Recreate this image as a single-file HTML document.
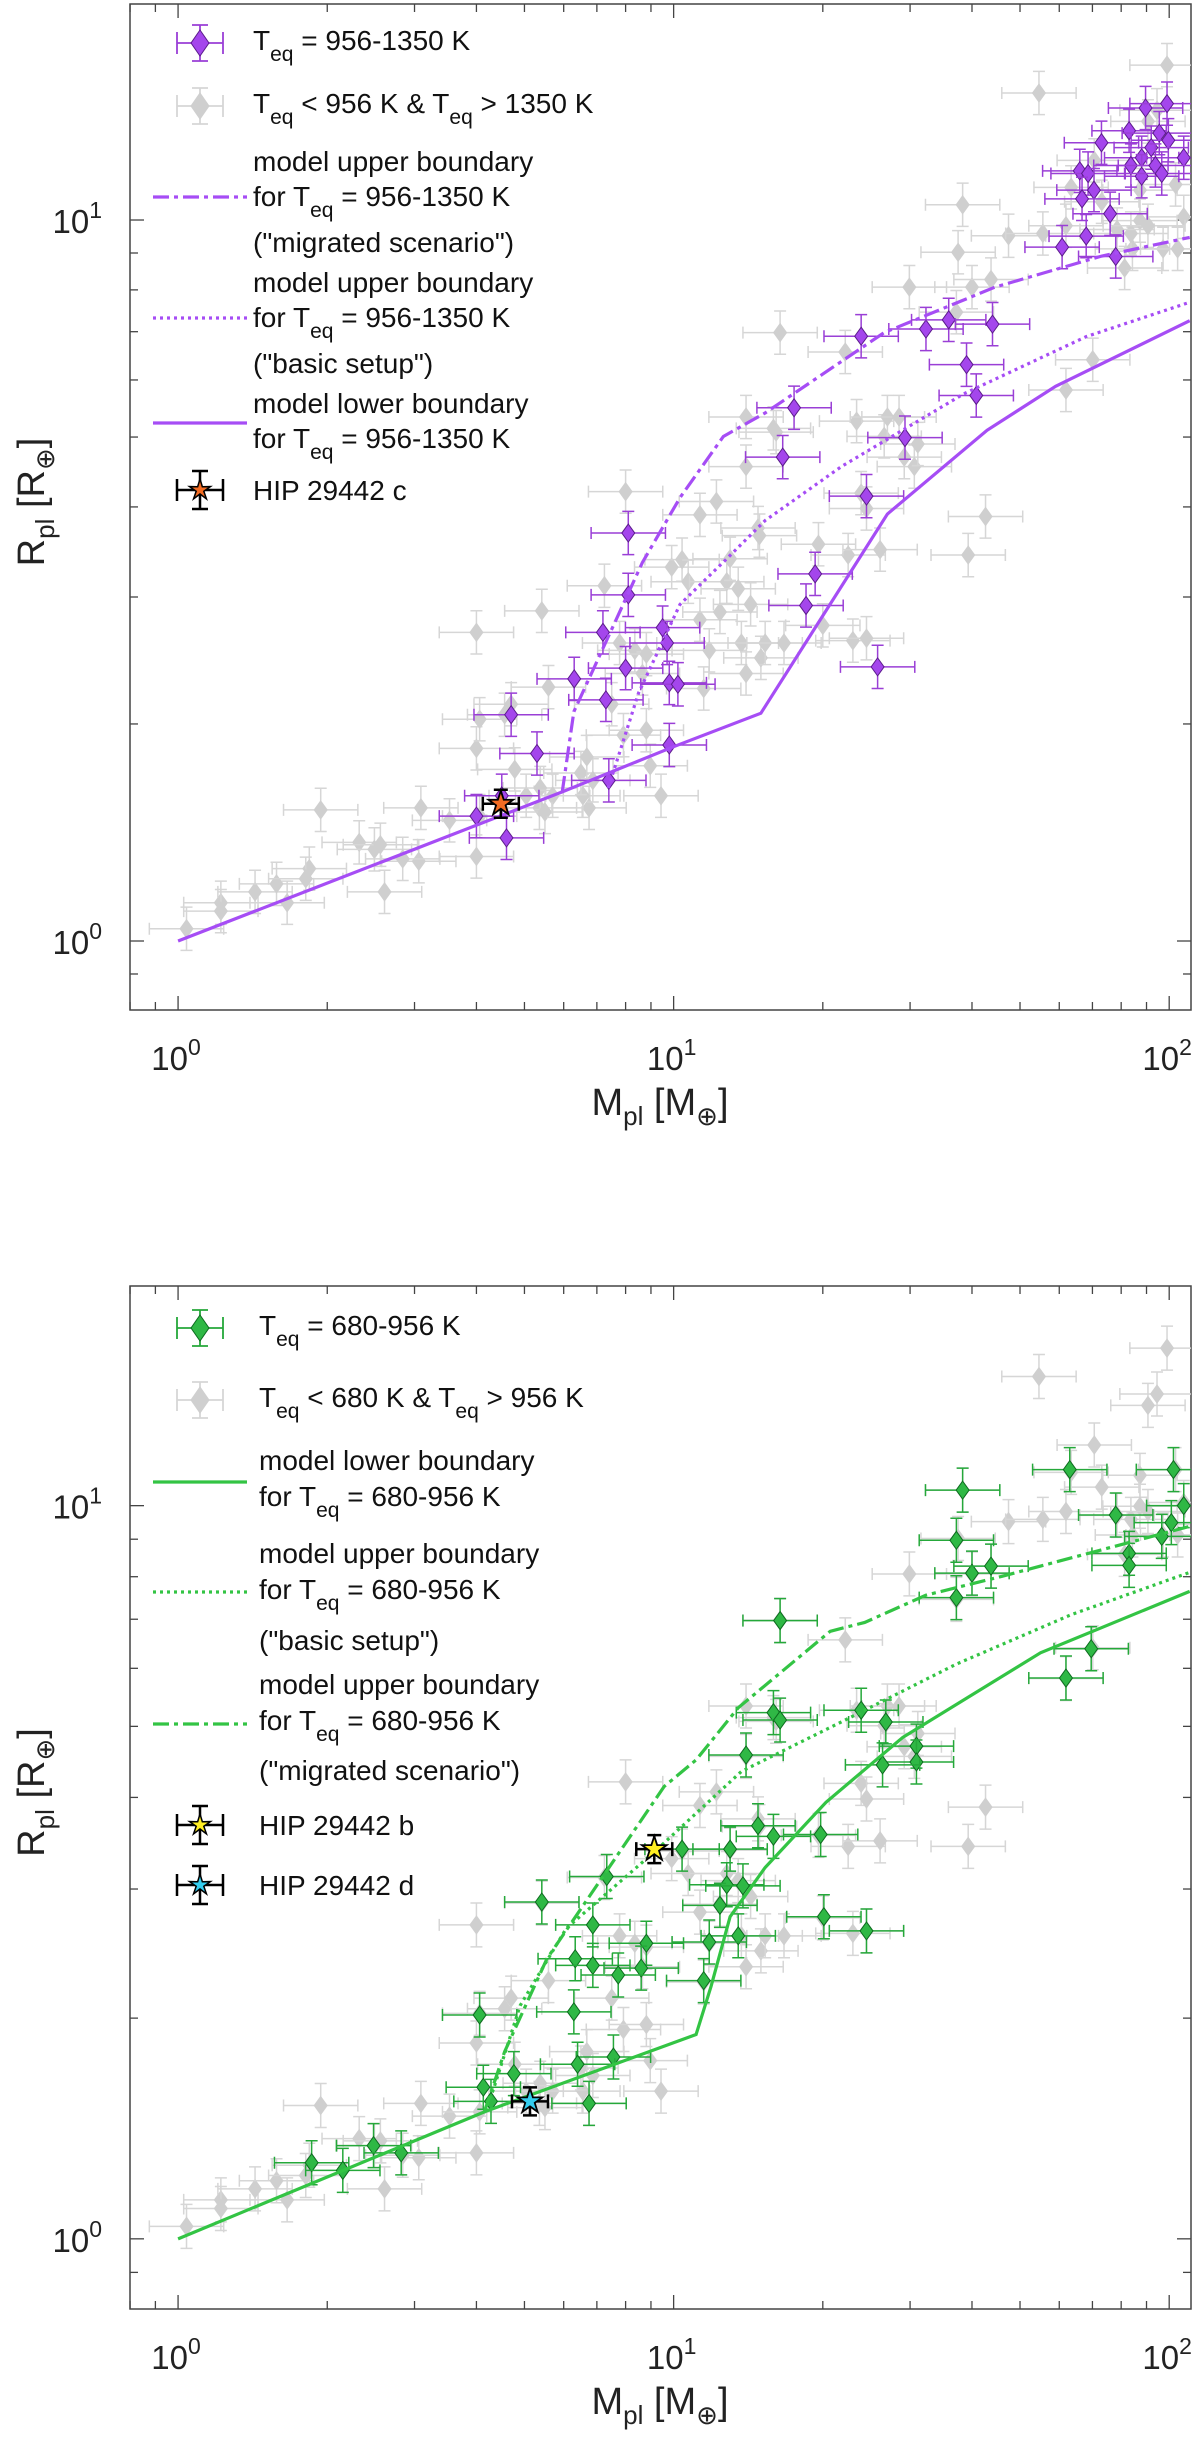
<!DOCTYPE html>
<html><head><meta charset="utf-8">
<style>
html,body{margin:0;padding:0;background:#fff;}
svg{display:block;font-family:"Liberation Sans",Arial,sans-serif;}
</style></head>
<body>
<svg id="fig" width="1200" height="2462" viewBox="0 0 1200 2462" xmlns="http://www.w3.org/2000/svg"></svg>
<script>
// ---------- DATA ----------
const grayMass=[1.04,1.22,1.22,1.43,1.58,1.66,1.84,1.81,1.94,2.32,2.49,2.56,2.61,3.06,3.09,2.84,3.53,4.0,4.06,4.0,4.06,4.0,4.56,4.7,4.78,5.04,5.36,5.38,5.5,5.7,5.59,5.42,6.75,6.56,6.5,6.87,6.68,7.25,7.5,8.0,7.78,7.92,8.35,8.65,8.81,8.97,8.81,9.43,9.91,10.4,11.3,12.2,10.7,11.3,11.5,11.8,12.4,12.8,13.0,13.5,13.7,14.0,14.0,14.0,14.3,14.8,14.9,15.0,15.3,15.9,16.1,16.4,16.7,19.6,20.0,22.2,22.5,23.0,23.4,23.9,24.5,24.5,26.1,26.6,27.0,28.5,29.2,29.9,30.6,31.1,37.5,38.3,37.2,39.3,42.6,40.0,43.7,47.4,55.6,54.6,61.9,70.1,63.4,61.9,81.3,84.3,87.3,90.6,94.5,99,97.2,104,107,103,83.7,87.3,78.5,73.1,70.6,90.6];
const grayRad=[1.04,1.13,1.10,1.17,1.20,1.13,1.26,1.22,1.52,1.37,1.34,1.36,1.17,1.29,1.53,1.30,1.47,1.31,1.49,1.85,2.03,2.68,2.06,2.13,1.73,1.59,1.53,1.63,1.51,1.59,2.25,2.87,1.53,1.59,1.71,1.67,1.80,3.11,2.13,4.2,2.59,1.93,2.53,2.35,2.50,1.75,1.96,1.59,3.30,3.38,3.90,4.07,3.15,2.79,2.24,2.53,2.86,3.15,3.39,3.08,2.59,2.35,4.55,5.33,2.93,3.74,3.65,2.47,2.59,5.14,5.08,6.98,2.59,3.55,2.74,6.56,3.43,2.61,5.26,4.18,2.63,3.98,3.49,5.01,5.33,5.33,4.69,8.07,4.55,4.89,9.02,10.5,7.45,3.43,3.88,8.07,8.27,9.51,9.58,15.0,5.81,6.40,11.1,9.82,8.58,9.12,11.0,13.7,14.2,16.4,9.12,9.12,10.1,11.2,9.58,9.98,9.70,10.6,12.1,9.82];
const purpleMass=[23.9,32.3,35.9,44,39,40.8,17.5,16.6,24.5,29.3,8.1,8.1,19.3,18.5,7.2,9.5,9.7,8.0,6.3,9.8,10.2,7.3,25.8,4.7,5.3,9.8,7.4,4.5,4.0,4.6,89.6,99,73,83,95.5,99.6,92,88,107,83.7,66,68.6,93.8,88,96.6,70.5,66.7,76,68,60.8,78];
const purpleRad=[6.9,7.06,7.27,7.17,6.3,5.71,5.49,4.69,4.14,4.99,3.68,3.02,3.23,2.92,2.68,2.72,2.59,2.39,2.31,2.28,2.27,2.16,2.40,2.06,1.82,1.87,1.67,1.59,1.49,1.39,14.3,14.5,12.8,13.3,13.2,12.9,12.6,12.2,12.2,11.9,11.7,11.6,11.9,11.5,11.6,11.0,10.7,10.2,9.5,9.17,8.9];
const greenMass=[38.3,63,78,102,107,101,96.6,37.2,40.0,43.7,83,83,37.2,16.4,69.6,61.9,23.9,26.8,15.9,16.4,14.0,30.9,30.9,26.4,14.8,15.9,19.8,10.4,13.0,7.33,12.8,13.8,5.42,12.4,20.1,24.5,13.5,11.8,6.87,6.33,6.87,8.81,8.6,7.73,11.5,6.29,4.06,7.56,6.4,4.76,4.13,6.75,4.28,2.48,2.82,1.86,2.15];
const greenRad=[10.5,11.2,9.71,11.2,10.0,9.48,9.08,8.97,8.09,8.27,8.61,8.29,7.49,6.97,6.38,5.82,5.26,5.07,5.22,5.10,4.57,4.70,4.47,4.43,3.66,3.54,3.56,3.40,3.40,3.12,3.04,3.03,2.88,2.85,2.75,2.63,2.59,2.54,2.68,2.41,2.36,2.53,2.34,2.29,2.25,2.04,2.02,1.77,1.73,1.68,1.61,1.53,1.54,1.34,1.31,1.27,1.24];
const topLowerM=[1,5.96,10,15,27,42.9,59,110];
const topLowerR=[1,1.61,1.86,2.07,3.91,5.11,5.88,7.25];
const topMigM=[5.96,6.29,8.65,10.3,12.6,15.3,26.6,44.5,73,110];
const topMigR=[1.61,2.08,3.35,4.12,5.01,5.4,6.98,8.07,8.91,9.46];
const topBasicM=[7.38,8.5,10.3,12.8,15.3,21.8,38.5,68,110];
const topBasicR=[1.63,2.21,2.93,3.39,3.83,4.55,5.74,6.89,7.69];
const botLowerM=[1,4.15,11.1,11.9,13.0,15.3,20.3,29,40,55,110];
const botLowerR=[1,1.49,1.90,2.21,2.75,3.21,3.94,4.83,5.52,6.30,7.64];
const botMigM=[4.15,4.56,5.55,9.57,11.1,13.5,20.7,24.3,32.3,46,110];
const botMigR=[1.49,1.80,2.41,4.14,4.5,5.30,6.74,6.93,7.55,8.01,9.37];
const botBasicM=[4.15,4.33,4.9,6.07,9.14,13.7,21.8,37.2,63.4,110];
const botBasicR=[1.49,1.60,2.08,2.65,3.37,4.34,5.07,6.08,7.1,8.11];
const hipC=[4.48,1.55], hipB=[9.14,3.40], hipD=[5.13,1.54];
const xTickExp=[0,1,2];
const yTickExp=[0,1];

// ---------- DRAW ----------
const NS="http://www.w3.org/2000/svg";
const svg=document.getElementById('fig');
function el(tag,attrs,parent){const e=document.createElementNS(NS,tag);for(const k in attrs)e.setAttribute(k,attrs[k]);(parent||svg).appendChild(e);return e;}
const LX0=-0.097,LX1=2.044,LY0=-0.0957,LY1=1.2996;

function panel(cfg){
  const g=el('g',{});
  
  
  const L=130,R=1191,T=cfg.top,B=cfg.bottom;
  const sx=m=>L+(Math.log10(m)-LX0)/(LX1-LX0)*(R-L);
  const sy=r=>B-(Math.log10(r)-LY0)/(LY1-LY0)*(B-T);
  const cid='clip'+cfg.top;
  const cp=el('clipPath',{id:cid},g);el('rect',{x:L,y:T,width:R-L,height:B-T},cp);
  const fr=el('rect',{x:L,y:T,width:R-L,height:B-T,fill:'none',stroke:'#444','stroke-width':1.5},g);
  
  
  for(let d=-1;d<=2;d++)for(let k=1;k<10;k++){
    const v=k*Math.pow(10,d);const lv=Math.log10(v);
    if(lv>LX0&&lv<LX1){const x=sx(v);const len=k==1?14:8;
      el('line',{x1:x,x2:x,y1:B,y2:B-len,stroke:'#444','stroke-width':1.3},g);
      el('line',{x1:x,x2:x,y1:T,y2:T+len,stroke:'#444','stroke-width':1.3},g);}
    if(lv>LY0&&lv<LY1){const y=sy(v);const len=k==1?14:8;
      el('line',{x1:L,x2:L+len,y1:y,y2:y,stroke:'#444','stroke-width':1.3},g);
      el('line',{x1:R,x2:R-len,y1:y,y2:y,stroke:'#444','stroke-width':1.3},g);}
  }
  xTickExp.forEach(e=>{const t=el('text',{x:sx(Math.pow(10,e))-2,y:B+60,'font-size':33,'text-anchor':'middle',fill:'#222'},g);
    
    t.innerHTML='10<tspan dy="-15" font-size="23">'+e+'</tspan>';});
  yTickExp.forEach(e=>{const t=el('text',{x:L-28,y:sy(Math.pow(10,e))+13,'font-size':33,'text-anchor':'end',fill:'#222'},g);
    
    t.innerHTML='10<tspan dy="-15" font-size="23">'+e+'</tspan>';});
  const xl=el('text',{x:660,y:B+105,'font-size':38,'text-anchor':'middle',fill:'#222'},g);
  
  xl.innerHTML='M<tspan dy="10" font-size="26">pl</tspan><tspan dy="-10"> [M</tspan><tspan dy="10" font-size="26">⊕</tspan><tspan dy="-10">]</tspan>';
  const yc=(T+B)/2;
  const yl=el('text',{x:0,y:0,'font-size':38,'text-anchor':'middle',fill:'#222',transform:'translate(44,'+(yc-5)+') rotate(-90)'},g);
  
  yl.innerHTML='R<tspan dy="10" font-size="26">pl</tspan><tspan dy="-10"> [R</tspan><tspan dy="10" font-size="26">⊕</tspan><tspan dy="-10">]</tspan>';
  const pg=el('g',{'clip-path':'url(#'+cid+')'},g);
  function point(m,r,fill,stroke,bar,size,name){
    const x=sx(m),y=sy(r);const ex=0.075*(R-L)/(LX1-LX0),ey=0.03*(B-T)/(LY1-LY0);
    const pe=el('g',{},pg);
    
    el('path',{d:`M${x-ex},${y}H${x+ex}M${x-ex},${y-6}V${y+6}M${x+ex},${y-6}V${y+6}M${x},${y-ey}V${y+ey}M${x-6},${y-ey}H${x+6}M${x-6},${y+ey}H${x+6}`,stroke:bar,'stroke-width':1.5,fill:'none'},pe);
    el('path',{d:`M${x},${y-size}L${x+size*0.72},${y}L${x},${y+size}L${x-size*0.72},${y}Z`,fill:fill,stroke:stroke,'stroke-width':1},pe);
  }
  grayMass.forEach((m,i)=>point(m,grayRad[i],'#cfcfcf','#cfcfcf','#d6d6d6',9,'gray-planet'));
  cfg.mass.forEach((m,i)=>point(m,cfg.rad[i],cfg.fill,cfg.edge,cfg.bar,9,cfg.ptname));
  function line(ms,rs,dash,name){
    const p=el('polyline',{points:ms.map((m,i)=>sx(m)+','+sy(rs[i])).join(' '),fill:'none',stroke:cfg.line,'stroke-width':3.2,'stroke-dasharray':dash},pg);
    
  }
  line(cfg.lowM,cfg.lowR,'none','model-lower-boundary');
  line(cfg.migM,cfg.migR,'16 5 4 5','model-upper-migrated');
  line(cfg.basM,cfg.basR,'3 4','model-upper-basic');
  function star(m,r,color,name){
    const x=sx(m),y=sy(r);const pe=el('g',{},pg);
    
    el('path',{d:`M${x-18},${y}H${x+18}M${x-18},${y-7}V${y+7}M${x+18},${y-7}V${y+7}M${x},${y-14}V${y+14}M${x-7},${y-14}H${x+7}M${x-7},${y+14}H${x+7}`,stroke:'#000','stroke-width':2.5,fill:'none'},pe);
    let d='';for(let k=0;k<10;k++){const a=-Math.PI/2+k*Math.PI/5;const rr=k%2?5:13;d+=(k?'L':'M')+(x+rr*Math.cos(a))+','+(y+rr*Math.sin(a));}
    el('path',{d:d+'Z',fill:color,stroke:'#000','stroke-width':1.8},pe);
  }
  cfg.stars.forEach(s=>star(s[0][0],s[0][1],s[1],s[2]));
  const lg=el('g',{},g);
  function ltext(x,y,html){const t=el('text',{x:x,y:y,'font-size':28,fill:'#111'},lg);t.innerHTML=html;
    return t;}
  const sub='<tspan dy="11" font-size="21">eq</tspan><tspan dy="-11">';
  cfg.legend.forEach(it=>{
    const e=el('g',{},lg);
    if(it.type=='pt'){const x=200,y=it.y;
      el('path',{d:`M${x-23},${y}H${x+23}M${x-23},${y-11}V${y+11}M${x+23},${y-11}V${y+11}M${x},${y-18}V${y+18}M${x-8},${y-18}H${x+8}M${x-8},${y+18}H${x+8}`,stroke:it.bar,'stroke-width':1.8,fill:'none'},e);
      el('path',{d:`M${x},${y-13}L${x+9},${y}L${x},${y+13}L${x-9},${y}Z`,fill:it.fill,stroke:it.edge,'stroke-width':1},e);}
    if(it.type=='line'){el('line',{x1:153,x2:247,y1:it.y,y2:it.y,stroke:cfg.line,'stroke-width':3.2,'stroke-dasharray':it.dash},e);}
    if(it.type=='star'){const x=200,y=it.y;
      el('path',{d:`M${x-23},${y}H${x+23}M${x-23},${y-11}V${y+11}M${x+23},${y-11}V${y+11}M${x},${y-19}V${y+19}M${x-8},${y-19}H${x+8}M${x-8},${y+19}H${x+8}`,stroke:'#000','stroke-width':2.5,fill:'none'},e);
      let d='';for(let k=0;k<10;k++){const a=-Math.PI/2+k*Math.PI/5;const rr=k%2?4:11;d+=(k?'L':'M')+(x+rr*Math.cos(a))+','+(y+rr*Math.sin(a));}
      el('path',{d:d+'Z',fill:it.fill,stroke:'#000','stroke-width':1.5},e);}
  });
  cfg.texts.forEach(t=>ltext(t[0],t[1],t[2].replace(/_eq_/g,sub+'').replace(/\|/g,'</tspan>')));
}
panel({name:'top-panel',top:4,bottom:1010,mass:purpleMass,rad:purpleRad,fill:'#a446ec',edge:'#5c1c8c',bar:'#9a3fd6',ptname:'purple-planet',line:'#a64df5',
  lowM:topLowerM,lowR:topLowerR,migM:topMigM,migR:topMigR,basM:topBasicM,basR:topBasicR,
  stars:[[hipC,'#f26b22','hip-29442-c']],
  legend:[{type:'pt',y:43,fill:'#a446ec',edge:'#5c1c8c',bar:'#9a3fd6'},{type:'pt',y:106,fill:'#cfcfcf',edge:'#cfcfcf',bar:'#d6d6d6'},
    {type:'line',y:197,dash:'16 5 4 5'},{type:'line',y:318,dash:'3 4'},{type:'line',y:423,dash:'none'},{type:'star',y:490,fill:'#f26b22'}],
  texts:[[253,50,'T_eq_ = 956-1350 K|'],[253,113,'T_eq_ &lt; 956 K &amp; T_eq_ &gt; 1350 K|'],
    [253,171,'model upper boundary'],[253,206,'for T_eq_ = 956-1350 K|'],[253,252,'("migrated scenario")'],
    [253,292,'model upper boundary'],[253,327,'for T_eq_ = 956-1350 K|'],[253,373,'("basic setup")'],
    [253,413,'model lower boundary'],[253,448,'for T_eq_ = 956-1350 K|'],[253,500,'HIP 29442 c']]});
panel({name:'bottom-panel',top:1286,bottom:2309,mass:greenMass,rad:greenRad,fill:'#2fb845',edge:'#0c6b1e',bar:'#25a83a',ptname:'green-planet',line:'#33c444',
  lowM:botLowerM,lowR:botLowerR,migM:botMigM,migR:botMigR,basM:botBasicM,basR:botBasicR,
  stars:[[hipB,'#ffee22','hip-29442-b'],[hipD,'#33ccee','hip-29442-d']],
  legend:[{type:'pt',y:1328,fill:'#2fb845',edge:'#0c6b1e',bar:'#25a83a'},{type:'pt',y:1400,fill:'#cfcfcf',edge:'#cfcfcf',bar:'#d6d6d6'},
    {type:'line',y:1482,dash:'none'},{type:'line',y:1592,dash:'3 4'},{type:'line',y:1724,dash:'16 5 4 5'},{type:'star',y:1825,fill:'#ffee22'},{type:'star',y:1885,fill:'#33ccee'}],
  texts:[[259,1335,'T_eq_ = 680-956 K|'],[259,1407,'T_eq_ &lt; 680 K &amp; T_eq_ &gt; 956 K|'],
    [259,1470,'model lower boundary'],[259,1506,'for T_eq_ = 680-956 K|'],
    [259,1563,'model upper boundary'],[259,1599,'for T_eq_ = 680-956 K|'],[259,1650,'("basic setup")'],
    [259,1694,'model upper boundary'],[259,1730,'for T_eq_ = 680-956 K|'],[259,1780,'("migrated scenario")'],
    [259,1835,'HIP 29442 b'],[259,1895,'HIP 29442 d']]});
</script>
</body></html>
